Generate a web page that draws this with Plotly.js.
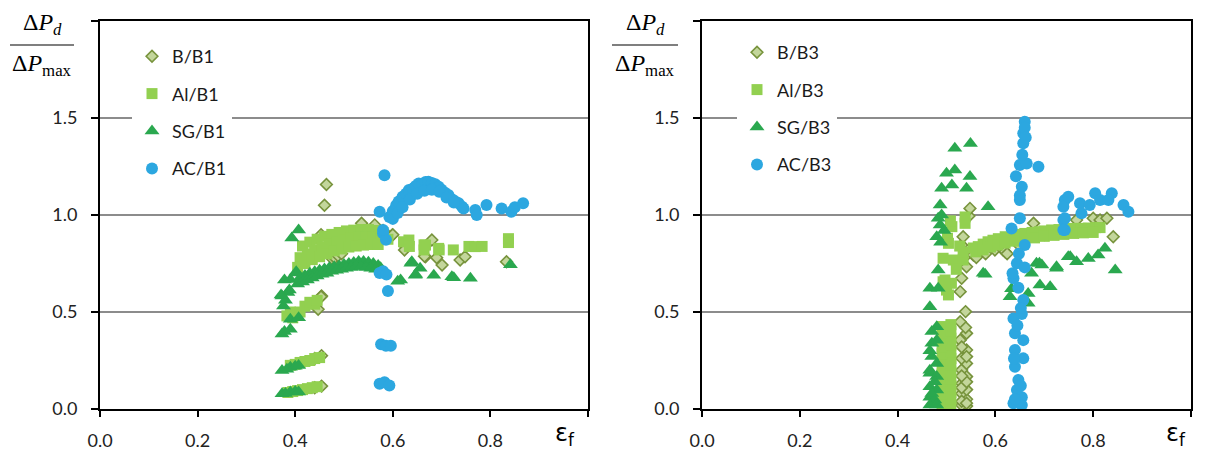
<!DOCTYPE html>
<html>
<head>
<meta charset="utf-8">
<script src="https://cdn.plot.ly/plotly-3.0.1.min.js"></script>
<style>html,body{margin:0;padding:0;background:#fff;}#chart{width:1205px;height:451px;}</style>
</head>
<body>
<div id="chart"></div>
<script>
// ---------- Left panel (B1) ----------
const b_b1_x = [0.44,0.454,0.44,0.454,0.447,0.454,0.453,0.46,0.464,0.477,0.481,0.488,0.495,0.50,0.52,0.536,0.563,0.58,0.599,0.60,0.626,0.624,0.667,0.665,0.68,0.69,0.701,0.738,0.748,0.833,0.453];
const b_b1_y = [0.11,0.118,0.26,0.275,0.514,0.582,0.898,1.05,1.157,0.772,0.78,0.79,0.80,0.86,0.89,0.957,0.949,0.92,0.897,0.898,0.837,0.82,0.785,0.787,0.871,0.78,0.742,0.768,0.785,0.759,0.579];

const al_b1_x = [0.385,0.395,0.405,0.415,0.425,0.435,0.445,
  0.39,0.40,0.41,0.42,0.43,0.44,0.45,
  0.383,0.39,0.395,0.41,0.42,0.43,0.44,0.445,
  0.415,0.43,0.445,0.46,0.475,0.49,0.505,0.52,0.535,0.55,0.565,0.58,
  0.41,0.425,0.44,0.455,0.47,0.485,0.50,0.515,0.53,0.545,0.56,0.575,0.59,
  0.405,0.42,0.435,0.45,0.465,0.48,0.495,0.51,0.525,0.54,0.555,0.57,
  0.622,0.633,0.634,0.664,0.667,0.664,0.694,0.695,0.724,0.756,0.769,0.783,0.837,0.837];
const al_b1_y = [0.085,0.09,0.095,0.10,0.105,0.11,0.115,
  0.225,0.23,0.24,0.245,0.25,0.26,0.265,
  0.48,0.50,0.47,0.50,0.53,0.55,0.54,0.56,
  0.84,0.86,0.875,0.89,0.90,0.91,0.918,0.922,0.925,0.925,0.92,0.91,
  0.78,0.80,0.82,0.835,0.85,0.86,0.87,0.88,0.885,0.885,0.885,0.88,0.875,
  0.73,0.75,0.77,0.785,0.80,0.815,0.825,0.835,0.84,0.845,0.848,0.848,
  0.862,0.871,0.838,0.846,0.845,0.82,0.828,0.82,0.82,0.838,0.837,0.838,0.878,0.858];

const sg_b1_x = [0.373,0.38,0.39,0.40,0.407,
  0.373,0.383,0.39,0.40,0.407,
  0.373,0.378,0.39,0.376,0.373,0.39,0.407,0.38,0.385,0.371,0.388,0.378,0.39,0.402,0.403,0.393,0.407,
  0.41,0.42,0.43,0.44,0.45,0.46,0.47,0.48,0.49,0.50,0.51,0.52,0.53,0.54,0.55,0.56,0.57,0.575,
  0.405,0.415,0.425,0.435,0.445,0.455,0.465,0.475,0.485,0.495,0.505,0.515,0.525,0.535,0.545,0.555,0.565,
  0.616,0.61,0.637,0.639,0.646,0.647,0.656,0.684,0.721,0.725,0.759,0.841];
const sg_b1_y = [0.078,0.08,0.087,0.09,0.087,
  0.198,0.205,0.215,0.22,0.224,
  0.386,0.40,0.411,0.531,0.582,0.463,0.471,0.56,0.60,0.588,0.613,0.665,0.667,0.708,0.701,0.881,0.923,
  0.677,0.688,0.70,0.708,0.715,0.722,0.728,0.733,0.738,0.745,0.75,0.755,0.76,0.76,0.757,0.75,0.74,0.728,
  0.644,0.655,0.665,0.675,0.685,0.695,0.70,0.71,0.715,0.72,0.725,0.73,0.735,0.735,0.73,0.725,0.72,
  0.665,0.659,0.751,0.759,0.69,0.693,0.725,0.69,0.682,0.676,0.674,0.744];

const ac_b1_x = [0.583,
  0.58,0.586,0.573,0.58,
  0.593,0.60,0.607,0.612,0.62,0.627,0.633,0.641,0.647,0.653,0.661,0.667,0.673,0.68,0.687,0.694,0.70,0.707,0.714,0.722,0.728,0.735,0.742,0.745,
  0.60,0.61,0.62,0.635,0.65,0.665,0.68,0.695,0.71,0.725,
  0.769,0.772,0.792,0.823,0.843,0.85,0.867,
  0.573,0.58,0.587,0.59,0.576,0.586,0.596,0.573,0.583,0.593];
const ac_b1_y = [1.205,
  0.906,0.872,1.017,0.923,
  0.99,1.02,1.05,1.069,1.094,1.11,1.129,1.136,1.15,1.163,1.16,1.17,1.172,1.165,1.158,1.146,1.13,1.115,1.103,1.08,1.07,1.06,1.043,1.034,
  0.98,1.01,1.04,1.08,1.11,1.125,1.13,1.12,1.09,1.065,
  1.026,1.0,1.052,1.034,1.017,1.04,1.06,
  0.701,0.71,0.693,0.608,0.334,0.326,0.326,0.13,0.138,0.121];

// ---------- Right panel (B3) ----------
const b_b3_x = [0.541,0.531,0.541,0.531,0.541,0.531,0.541,0.531,0.541,0.531,0.541,0.528,0.541,0.539,0.528,0.539,
  0.531,0.541,0.531,0.541,0.531,0.541,0.531,
  0.528,0.531,0.541,0.538,0.531,0.534,0.546,0.548,
  0.555,0.561,0.58,0.599,0.616,0.62,0.624,0.65,0.678,0.70,0.72,0.75,0.766,0.80,0.814,0.828,0.841];
const b_b3_y = [0.015,0.02,0.05,0.08,0.10,0.132,0.167,0.201,0.235,0.261,0.304,0.355,0.39,0.42,0.45,0.502,
  0.04,0.03,0.11,0.14,0.17,0.27,0.32,
  0.605,0.674,0.733,0.785,0.845,0.888,0.995,1.034,
  0.794,0.781,0.80,0.82,0.82,0.811,0.80,0.84,0.957,0.90,0.91,0.92,0.974,0.983,0.974,0.983,0.888];

const al_b3_x = [0.491,0.509,0.491,0.509,0.491,0.509,0.491,0.509,0.491,0.509,0.491,0.509,0.491,0.509,0.491,0.509,0.491,0.509,0.491,0.509,0.491,0.509,0.491,0.509,0.491,0.509,
  0.493,0.504,0.51,0.50,0.497,0.493,0.514,0.534,0.504,0.527,0.534,0.502,0.511,0.508,0.538,0.538,0.52,
  0.555,0.565,0.575,0.585,0.595,0.606,0.62,0.635,0.65,0.66,0.675,0.69,0.70,0.715,0.73,0.745,0.76,0.775,0.79,0.805,0.814,
  0.56,0.575,0.59,0.605,0.62,0.64,0.66,0.68,0.70,0.72,0.74,0.76,0.78,0.80];
const al_b3_y = [0.01,0.02,0.04,0.05,0.075,0.085,0.11,0.12,0.145,0.155,0.18,0.19,0.215,0.225,0.25,0.26,0.285,0.295,0.32,0.33,0.355,0.365,0.39,0.40,0.425,0.435,
  0.656,0.588,0.648,0.613,0.665,0.777,0.768,0.768,0.854,0.84,0.81,0.88,0.94,0.97,0.957,0.99,0.72,
  0.83,0.837,0.85,0.862,0.87,0.878,0.888,0.895,0.9,0.905,0.91,0.914,0.918,0.923,0.925,0.928,0.931,0.931,0.933,0.935,0.935,
  0.81,0.82,0.835,0.845,0.855,0.865,0.875,0.882,0.89,0.895,0.9,0.905,0.908,0.91];

const sg_b3_x = [0.517,0.549,0.50,0.517,0.548,0.49,0.511,0.541,0.487,0.483,0.487,0.48,0.49,0.495,0.488,0.483,0.466,0.483,0.466,
  0.48,0.47,0.48,0.47,0.48,0.466,0.48,0.466,0.48,0.466,0.476,0.466,0.48,0.47,0.466,0.476,0.47,0.466,
  0.585,0.579,0.575,0.63,0.633,0.667,0.667,0.674,0.684,0.69,0.691,0.712,0.725,0.749,0.753,0.766,0.79,0.81,0.824,0.845,0.695,0.725];
const sg_b3_y = [1.344,1.369,1.215,1.232,1.198,1.138,1.155,1.138,1.052,0.983,0.948,0.888,1.00,0.92,0.86,0.716,0.622,0.622,0.527,
  0.424,0.339,0.355,0.27,0.235,0.184,0.167,0.115,0.098,0.06,0.046,0.02,0.02,0.40,0.30,0.14,0.08,0.2,
  1.043,0.694,0.70,0.579,0.62,0.545,0.596,0.70,0.751,0.751,0.639,0.63,0.733,0.785,0.785,0.759,0.776,0.794,0.828,0.716,0.742,0.725];

const ac_b3_x = [0.66,0.657,0.657,0.65,0.664,0.688,0.654,0.65,0.65,0.633,0.66,0.644,0.66,0.637,0.647,0.657,0.637,0.654,0.64,0.657,0.64,0.657,0.64,0.647,0.644,0.654,0.637,0.654,
  0.66,0.662,0.655,0.642,0.65,0.648,0.635,0.652,0.645,0.638,0.652,0.64,
  0.742,0.739,0.742,0.749,0.739,0.742,0.739,0.773,0.776,0.804,0.814,0.838,0.831,0.862,0.872,0.793];
const ac_b3_y = [1.481,1.421,1.37,1.258,1.266,1.249,1.146,1.077,0.983,0.931,0.845,0.751,0.73,0.674,0.625,0.562,0.467,0.49,0.39,0.355,0.304,0.261,0.218,0.15,0.098,0.06,0.03,0.02,
  1.45,1.40,1.31,1.20,1.10,0.80,0.70,0.52,0.43,0.26,0.12,0.05,
  1.077,0.974,0.923,1.094,1.043,0.983,0.923,1.06,1.009,1.112,1.077,1.112,1.077,1.052,1.017,1.052];

const legendNames1 = ['B/B1','Al/B1','SG/B1','AC/B1'];
const legendNames2 = ['B/B3','Al/B3','SG/B3','AC/B3'];
const xTickVals = [0,0.2,0.4,0.6,0.8,1.0];
const xTickText = ['0.0','0.2','0.4','0.6','0.8',''];
const yTickVals = [0,0.5,1.0,1.5,2.0];
const yTickText = ['0.0','0.5','1.0','1.5',''];

// ---------- styles ----------
const W = 1205, H = 451;
const px = v => v / W;
const py = v => (H - v) / H;
const styles = [
  {symbol:'diamond', size:9, color:'#C3D69B', line:{color:'#77933C', width:1.6}},
  {symbol:'square', size:11, color:'#92D050', line:{width:0}},
  {symbol:'triangle-up', size:13, color:'#2AA84F', line:{width:0}},
  {symbol:'circle', size:12, color:'#2CA7E0', line:{width:0}}
];
function tr(x, y, name, st, xa, ya, leg, grp) {
  return {x:x, y:y, name:name, type:'scatter', mode:'markers', marker:st,
    xaxis:xa, yaxis:ya, legend:leg, legendgroup:grp, hoverinfo:'skip'};
}
const data = [
  tr(b_b1_x,b_b1_y,legendNames1[0],styles[0],'x','y','legend','a1'),
  tr(al_b1_x,al_b1_y,legendNames1[1],styles[1],'x','y','legend','b1'),
  tr(sg_b1_x,sg_b1_y,legendNames1[2],styles[2],'x','y','legend','c1'),
  tr(ac_b1_x,ac_b1_y,legendNames1[3],styles[3],'x','y','legend','d1'),
  tr(b_b3_x,b_b3_y,legendNames2[0],styles[0],'x2','y2','legend2','a2'),
  tr(al_b3_x,al_b3_y,legendNames2[1],styles[1],'x2','y2','legend2','b2'),
  tr(sg_b3_x,sg_b3_y,legendNames2[2],styles[2],'x2','y2','legend2','c2'),
  tr(ac_b3_x,ac_b3_y,legendNames2[3],styles[3],'x2','y2','legend2','d2')
];

const tickFont = {family:'Lato, "Open Sans", sans-serif', size:18, color:'#222'};
function xax(dom, anchor) {
  return {domain:dom, anchor:anchor, range:[0,1.0], tickvals:xTickVals, ticktext:xTickText,
    showline:true, linecolor:'#000', linewidth:2, mirror:true, ticks:'outside', ticklen:6, tickwidth:2,
    tickcolor:'#000', showgrid:false, zeroline:false, tickfont:tickFont, ticklabelstandoff:8, fixedrange:true};
}
function yax(anchor) {
  return {domain:[py(409), py(21)], anchor:anchor, range:[0,2.0], tickvals:yTickVals, ticktext:yTickText,
    showline:true, linecolor:'#000', linewidth:2, mirror:true, ticks:'outside', ticklen:7, tickwidth:2,
    tickcolor:'#000', showgrid:true, gridcolor:'#8C8C8C', gridwidth:2, zeroline:false, tickfont:tickFont,
    ticklabelstandoff:10, fixedrange:true};
}
const legFont = {family:'Lato, "Open Sans", sans-serif', size:18, color:'#1a1a1a'};
function leg(xp, yp) {
  return {x:px(xp), y:py(yp), xanchor:'left', yanchor:'top', bgcolor:'#fff', borderwidth:0,
    font:legFont, traceorder:'grouped', tracegroupgap:11, itemsizing:'trace', itemwidth:30};
}
const serif = 'Liberation Serif, "DejaVu Serif", serif';
function frac(cx) {
  return [
    {xref:'paper', yref:'paper', x:px(cx), y:py(24), xanchor:'center', yanchor:'middle', showarrow:false,
     text:'Δ<i>P</i><sub><i>d</i></sub>', font:{family:serif, size:24, color:'#000'}},
    {xref:'paper', yref:'paper', x:px(cx), y:py(65), xanchor:'center', yanchor:'middle', showarrow:false,
     text:'Δ<i>P</i><sub>max</sub>', font:{family:serif, size:24, color:'#000'}}
  ];
}
function fracLine(x0, x1) {
  return {type:'line', xref:'paper', yref:'paper', x0:px(x0), x1:px(x1), y0:py(45), y1:py(45),
    line:{color:'#000', width:1.2}};
}
function eps(cx) {
  return {xref:'paper', yref:'paper', x:px(cx), y:py(434), xanchor:'center', yanchor:'middle', showarrow:false,
    text:'ε<sub>f</sub>', font:{family:'"DejaVu Sans", sans-serif', size:24, color:'#000'}};
}

const layout = {
  width:W, height:H, margin:{l:0, r:0, t:0, b:0}, paper_bgcolor:'#fff', plot_bgcolor:'#fff',
  showlegend:true,
  xaxis: xax([px(100), px(588)], 'y'),
  yaxis: yax('x'),
  xaxis2: xax([px(702), px(1191)], 'y2'),
  yaxis2: yax('x2'),
  legend: leg(132, 38),
  legend2: leg(737, 34),
  annotations: [].concat(frac(42), frac(645), [eps(565), eps(1176)]),
  shapes: [fracLine(10, 74), fracLine(612, 678)]
};
Plotly.newPlot('chart', data, layout, {displayModeBar:false, staticPlot:true});
</script>
</body>
</html>
